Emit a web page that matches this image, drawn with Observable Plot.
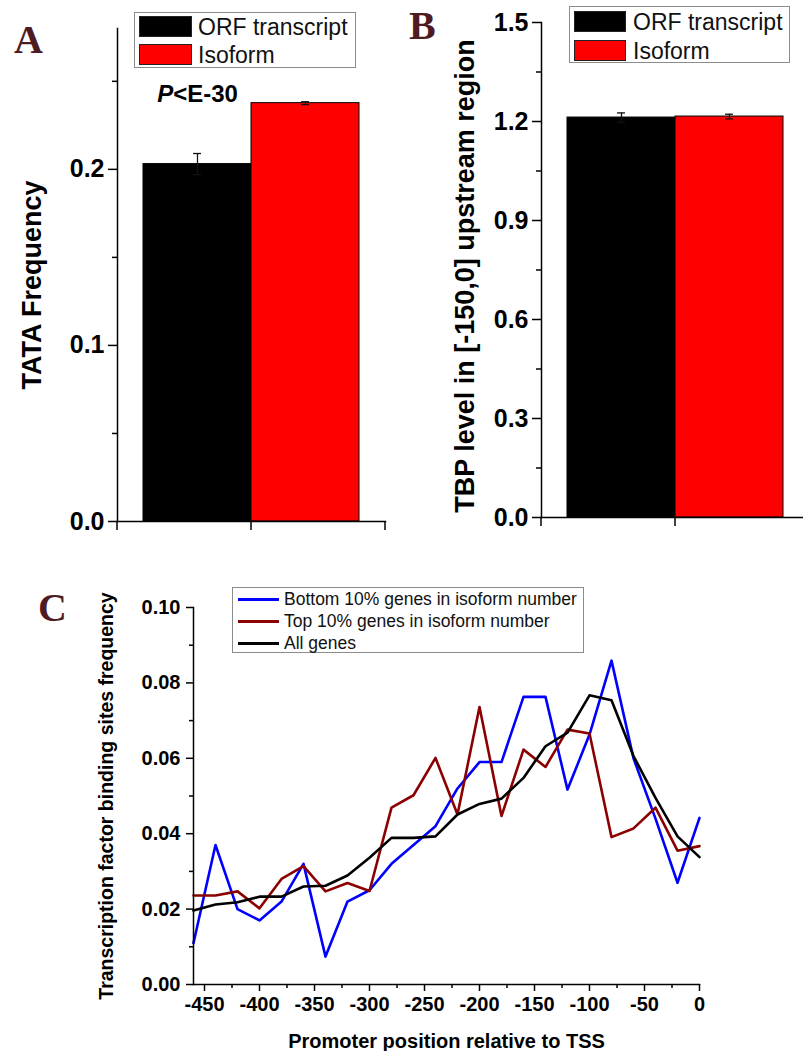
<!DOCTYPE html>
<html>
<head>
<meta charset="utf-8">
<script src="https://cdn.jsdelivr.net/npm/d3@7"></script>
<script src="https://cdn.jsdelivr.net/npm/@observablehq/plot@0.6"></script>
<style>
  body { margin: 0; background: #fff; }
  #page { position: relative; width: 803px; height: 1051px; overflow: hidden; background: #fff;
          font-family: "Liberation Sans", Arial, sans-serif; }
  .panel { position: absolute; }
  .panel svg { display: block; overflow: visible; max-width: none !important; }
  .letter { position: absolute; font-family: "Liberation Serif", "DejaVu Serif", serif; font-weight: bold;
            color: #4f1b22; font-size: 40px; line-height: 40px; }
  .legend { position: absolute; border: 1px solid #8c8c8c; background: #fff; box-sizing: border-box; }
  .sw { position: absolute; box-sizing: border-box; border: 1px solid #222; }
  .ln { position: absolute; height: 3px; }
  .lt { position: absolute; white-space: nowrap; color: #111; line-height: 1; transform: translateY(-50%); }
</style>
</head>
<body>
<div id="page"></div>
<script>
// ---------- data ----------
const barCategories = ["ORF transcript", "Isoform"];
const barColors = ["#000000", "#ff0000"];
const tataValues = [0.203, 0.2376];
const tataErrors = [0.006, 0.0008];
const tbpValues = [1.212, 1.215];
const tbpErrors = [0.014, 0.007];
const tataMajorTicks = [0, 0.1, 0.2];
const tataMinorTicks = [0.05, 0.15, 0.25];
const tbpMajorTicks = [0, 0.3, 0.6, 0.9, 1.2, 1.5];
const tbpMinorTicks = [0.15, 0.45, 0.75, 1.05, 1.35];
const pValueNote = "P<E-30";

const tssPositions = [-460, -440, -420, -400, -380, -360, -340, -320, -300, -280, -260, -240,
                      -220, -200, -180, -160, -140, -120, -100, -80, -60, -40, -20, 0];
const bottomGenes = [0.011, 0.037, 0.020, 0.017, 0.022, 0.032, 0.0074, 0.022, 0.025, 0.032, 0.037, 0.042,
                     0.052, 0.059, 0.059, 0.0763, 0.0763, 0.0517, 0.0663, 0.0859, 0.060, 0.044, 0.027, 0.0442];
const topGenes    = [0.0236, 0.0236, 0.0247, 0.0202, 0.028, 0.0314, 0.0247, 0.0269, 0.0248, 0.0469, 0.0502, 0.0601,
                     0.0451, 0.0736, 0.0447, 0.0623, 0.0577, 0.0676, 0.0666, 0.0391, 0.0414, 0.0469, 0.0355, 0.0367];
const allGenes    = [0.0196, 0.0212, 0.0218, 0.0233, 0.0233, 0.026, 0.0262, 0.0289, 0.0336, 0.0389, 0.0389, 0.0393,
                     0.0451, 0.0479, 0.0493, 0.0548, 0.0632, 0.0668, 0.0767, 0.0754, 0.0606, 0.0495, 0.0393, 0.0338];
const seriesNames = ["Bottom 10% genes in isoform number", "Top 10% genes in isoform number", "All genes"];
const seriesColors = ["#0000ff", "#8b0000", "#000000"];
const tssMajorTicks = [-450, -400, -350, -300, -250, -200, -150, -100, -50, 0];
const tssMinorTicks = [-425, -375, -325, -275, -225, -175, -125, -75, -25];
const tfbsMajorTicks = [0, 0.02, 0.04, 0.06, 0.08, 0.10];
const tfbsMinorTicks = [0.01, 0.03, 0.05, 0.07, 0.09];

const panelLetters = ["A", "B", "C"];
const titles = {
  a: "TATA Frequency",
  b: "TBP level in [-150,0] upstream region",
  cy: "Transcription factor binding sites frequency",
  cx: "Promoter position relative to TSS"
};

// ---------- helpers ----------
const page = document.getElementById("page");
const FONT = "Liberation Sans, Arial, sans-serif";

function place(node, left, top, w) {
  const d = document.createElement("div");
  d.className = "panel";
  d.style.left = left + "px";
  d.style.top = top + "px";
  d.style.width = w + "px";
  d.appendChild(node);
  page.appendChild(d);
}

function barPanel(o) {
  const rows = barCategories.map((c, i) => ({cat: c, value: o.values[i], err: o.errors[i]}));
  const marks = [
    Plot.barY(rows, {x: "cat", y: "value", fill: "cat", stroke: "#000", strokeWidth: 1}),
    Plot.ruleX(rows, {x: "cat", y1: d => d.value - d.err, y2: d => d.value + d.err, stroke: "#111", strokeWidth: 1.3}),
    Plot.tickY(rows, {x: "cat", y: d => d.value + d.err, stroke: "#111", strokeWidth: 1.3, insetLeft: 50, insetRight: 50}),
    Plot.tickY(rows, {x: "cat", y: d => d.value - d.err, stroke: "#111", strokeWidth: 1.3, insetLeft: 50, insetRight: 50}),
    Plot.frame({anchor: "left", stroke: "#000", strokeWidth: 1.5}),
    Plot.frame({anchor: "bottom", stroke: "#000", strokeWidth: 1.5}),
    Plot.axisY(o.major, {tickSize: 9, tickPadding: 4, tickFormat: o.fmt, fontSize: 25, fontWeight: "bold",
                         stroke: "#000", strokeWidth: 1.5, label: null}),
    Plot.axisY(o.minor, {tickSize: 5, fill: "none", stroke: "#000", strokeWidth: 1.5, label: null}),
    Plot.text([o.title], {text: d => d, frameAnchor: "left", rotate: -90, dx: o.titleDx, dy: o.titleDy,
                          textAnchor: "middle", lineAnchor: "middle",
                          fontSize: 27, fontWeight: "bold", fill: "#000"})
  ];
  if (o.note) {
    marks.push(Plot.text([o.note], {text: d => d, x: () => barCategories[0], y: () => o.values[1],
                                    lineAnchor: "bottom", dy: -1, fontSize: 24, fontWeight: "bold", fill: "#000"}));
  }
  const plot = Plot.plot({
    width: o.width, height: o.height,
    marginLeft: o.ml, marginRight: o.mr, marginTop: o.mt, marginBottom: o.mb,
    style: {fontFamily: FONT, background: "transparent", color: "#000"},
    x: {domain: barCategories, paddingInner: 0, paddingOuter: 0.24, axis: null},
    y: {domain: o.domain},
    color: {domain: barCategories, range: barColors},
    marks
  });
  // bottom ticks at the category-group edges and centre, taken from the band scale
  const xs = plot.scale("x"), ys = plot.scale("y");
  const yb = ys.apply(o.domain[0]);
  const tx = [xs.range[0], xs.apply(barCategories[1]), xs.range[1]];
  d3.select(plot).append("g").attr("stroke", "#000").attr("stroke-width", 1.5)
    .selectAll("line").data(tx).join("line")
    .attr("x1", d => d).attr("x2", d => d).attr("y1", yb).attr("y2", yb + 9);
  if (o.note) {
    d3.select(plot).selectAll("text").filter(function () { return this.textContent === o.note; })
      .each(function () {
        const t = d3.select(this);
        t.text(null);
        t.append("tspan").attr("font-style", "italic").text(o.note.slice(0, 1));
        t.append("tspan").text(o.note.slice(1));
      });
  }
  return plot;
}

// ---------- panel A ----------
place(barPanel({
  values: tataValues, errors: tataErrors, domain: [0, 0.28],
  major: tataMajorTicks, minor: tataMinorTicks, fmt: d3.format(".1f"),
  title: titles.a, titleDx: -85, titleDy: 10, note: pValueNote,
  width: 400, height: 540, ml: 117, mr: 15, mt: 28, mb: 19
}), 0, 0, 400);

// ---------- panel B ----------
place(barPanel({
  values: tbpValues, errors: tbpErrors, domain: [0, 1.5],
  major: tbpMajorTicks, minor: tbpMinorTicks, fmt: d3.format(".1f"),
  title: titles.b, titleDx: -76, titleDy: 6,
  width: 409, height: 540, ml: 141, mr: 0, mt: 22, mb: 23
}), 400, 0, 409);

// ---------- panel C ----------
const tfbsRows = tssPositions.flatMap((p, i) => [
  {pos: p, value: bottomGenes[i], series: seriesNames[0]},
  {pos: p, value: topGenes[i], series: seriesNames[1]},
  {pos: p, value: allGenes[i], series: seriesNames[2]}
]);
const plotC = Plot.plot({
  width: 803, height: 511, marginLeft: 193, marginRight: 104, marginTop: 67, marginBottom: 67,
  style: {fontFamily: FONT, background: "transparent", color: "#000"},
  x: {domain: [-460, 0]},
  y: {domain: [0, 0.10]},
  color: {domain: seriesNames, range: seriesColors},
  marks: [
    Plot.line(tfbsRows, {x: "pos", y: "value", z: "series", stroke: "series", strokeWidth: 2.6}),
    Plot.frame({anchor: "left", stroke: "#000", strokeWidth: 1.5}),
    Plot.frame({anchor: "bottom", stroke: "#000", strokeWidth: 1.5}),
    Plot.axisY(tfbsMajorTicks, {tickSize: 7, tickPadding: 6, tickFormat: d3.format(".2f"), fontSize: 20,
                                fontWeight: "bold", stroke: "#000", strokeWidth: 1.5, label: null}),
    Plot.axisY(tfbsMinorTicks, {tickSize: 4, fill: "none", stroke: "#000", strokeWidth: 1.5, label: null}),
    Plot.axisX(tssMajorTicks, {tickSize: 7, tickPadding: 5, tickFormat: d => String(d), fontSize: 20,
                               fontWeight: "bold", stroke: "#000", strokeWidth: 1.5, label: null}),
    Plot.axisX(tssMinorTicks, {tickSize: 4, fill: "none", stroke: "#000", strokeWidth: 1.5, label: null}),
    Plot.text([titles.cy], {text: d => d, frameAnchor: "left", rotate: -90, dx: -87,
                            textAnchor: "middle", lineAnchor: "middle",
                            fontSize: 19.5, fontWeight: "bold", fill: "#000"}),
    Plot.text([titles.cx], {text: d => d, frameAnchor: "bottom", dy: 63, textAnchor: "middle",
                            fontSize: 20, fontWeight: "bold", fill: "#000"})
  ]
});
place(plotC, 0, 540, 803);

// ---------- legends ----------
function barLegend(left, top, w, h, swLeft, swW, swTops, swH, textLeft, textCenters, fs) {
  const box = document.createElement("div");
  box.className = "legend";
  Object.assign(box.style, {left: left + "px", top: top + "px", width: w + "px", height: h + "px"});
  barCategories.forEach((c, i) => {
    const s = document.createElement("div");
    s.className = "sw";
    Object.assign(s.style, {left: swLeft + "px", top: swTops[i] + "px", width: swW + "px", height: swH + "px", background: barColors[i]});
    box.appendChild(s);
    const t = document.createElement("div");
    t.className = "lt";
    t.textContent = c;
    Object.assign(t.style, {left: textLeft + "px", top: textCenters[i] + "px", fontSize: fs + "px"});
    box.appendChild(t);
  });
  page.appendChild(box);
}
barLegend(134, 12, 222, 56, 4, 53, [3, 31], 21, 63, [14, 42], 23);
barLegend(569, 6, 221, 57, 4, 52, [4, 33], 21, 63, [15, 44], 23);

(function lineLegend() {
  const box = document.createElement("div");
  box.className = "legend";
  Object.assign(box.style, {left: "232px", top: "587px", width: "352px", height: "66px"});
  seriesNames.forEach((n, i) => {
    const l = document.createElement("div");
    l.className = "ln";
    Object.assign(l.style, {left: "5px", top: (10 + 22 * i) + "px", width: "41px", background: seriesColors[i]});
    box.appendChild(l);
    const t = document.createElement("div");
    t.className = "lt";
    t.textContent = n;
    Object.assign(t.style, {left: "51px", top: (12 + 22 * i) + "px", fontSize: "17.5px"});
    box.appendChild(t);
  });
  page.appendChild(box);
})();

// ---------- panel letters ----------
[[panelLetters[0], 14, 20], [panelLetters[1], 409, 6], [panelLetters[2], 38, 588]].forEach(([s, x, y]) => {
  const d = document.createElement("div");
  d.className = "letter";
  d.textContent = s;
  d.style.left = x + "px";
  d.style.top = y + "px";
  page.appendChild(d);
});
</script>
</body>
</html>
